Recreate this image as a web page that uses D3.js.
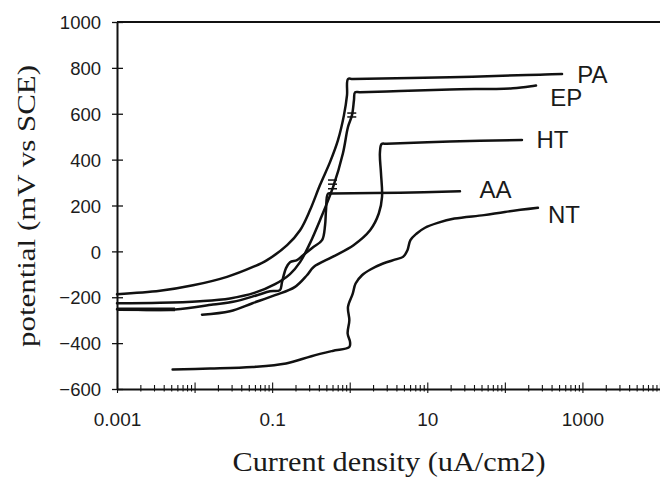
<!DOCTYPE html>
<html><head><meta charset="utf-8">
<script src="https://cdn.jsdelivr.net/npm/d3@7"></script>
<style>html,body{margin:0;padding:0;background:#fff;} svg{display:block;}</style>
</head><body><svg id="c" width="660" height="477"></svg>
<script>
// ---- data (current density uA/cm2, potential mV vs SCE) ----
const seriesNames = ["PA", "EP", "HT", "AA", "NT"];

const paCurrent   = [0.001, 0.00358, 0.00955, 0.0262, 0.0566, 0.0859, 0.156, 0.229, 0.308, 0.414, 0.557, 0.706, 0.843, 0.923, 0.95, 1.1, 19.6, 193, 330, 546];
const paPotential = [-187, -172, -148, -111, -68, -38, 27, 92, 180, 289, 389, 485, 594, 681, 751, 752, 759, 769, 771, 773];

const epCurrent   = [0.001, 0.00358, 0.01175, 0.0286, 0.0601, 0.109, 0.17, 0.229, 0.308, 0.414, 0.61, 0.818, 0.95, 1.07, 1.135, 1.17, 1.35, 4.45, 19.6, 127, 231, 252];
const epPotential = [-226, -224, -217, -205, -180, -143, -99, -47, 36, 136, 280, 428, 542, 594, 660, 693, 694, 699, 706, 711, 721, 723];

const htCurrent   = [0.01247, 0.0286, 0.0558, 0.109, 0.195, 0.281, 0.343, 0.6, 1.12, 1.83, 2.37, 2.61, 2.53, 2.45, 2.58, 3.0, 19.6, 166];
const htPotential = [-276, -261, -226, -191, -156, -104, -68, -24, 27, 92, 165, 238, 341, 428, 468, 469, 479, 486];

const aaCurrent   = [0.001, 0.0056, 0.0173, 0.0313, 0.0638, 0.0938, 0.126, 0.134, 0.151, 0.17, 0.209, 0.25, 0.337, 0.44, 0.481, 0.495, 0.525, 0.6, 4.45, 26.4];
const aaPotential = [-252, -253, -232, -220, -191, -174, -169, -134, -73, -47, -38, -17, 18, 49, 114, 180, 252, 252.5, 256, 262];

const ntCurrent   = [0.00521, 0.0158, 0.0558, 0.151, 0.321, 0.6, 0.989, 1.01, 0.94, 0.989, 0.95, 1.094, 1.19, 1.44, 1.85, 2.69, 3.91, 4.87, 5.55, 6.06, 7.31, 9.35, 13.6, 22.4, 53.8, 100, 267];
const ntPotential = [-515, -511, -504, -489, -457, -434, -417, -395, -358, -300, -242, -184, -140, -104, -79, -53, -35, -24, 5, 49, 78, 103, 124, 143, 158, 172, 190];

// small hash marks on the curves
const hashCurrent   = [0.525, 0.525, 0.525, 0.93, 0.93];
const hashPotential = [311, 293, 273, 603, 586];

// curve label anchors
const labelCurrent   = [860, 385, 255, 47, 360];
const labelPotential = [773, 673, 487, 269, 160];

const yTickValues = [-600, -400, -200, 0, 200, 400, 600, 800, 1000];
const xLabelValues = [0.001, 0.1, 10, 1000];
const xLabelTexts  = ["0.001", "0.1", "10", "1000"];

// ---- drawing ----
const svg = d3.select("#c");
const x = d3.scaleLog().domain([0.001, 10000]).range([117, 660]);
const y = d3.scaleLinear().domain([-600, 1000]).range([389, 22]);

const ink = "#111";
const sans = "'Liberation Sans', Arial, Helvetica, sans-serif";
const serif = "'Liberation Serif', 'Times New Roman', Times, serif";

// top border
svg.append("line").attr("x1", 117).attr("x2", 660).attr("y1", y(1000)).attr("y2", y(1000))
  .attr("stroke", ink).attr("stroke-width", 2.2);

// y axis
const yAxis = svg.append("g").attr("transform", "translate(117,0)")
  .call(d3.axisLeft(y).tickValues(yTickValues).tickSize(5).tickSizeOuter(0).tickPadding(12).tickFormat(d3.format("d")));
yAxis.select(".domain").attr("stroke", ink).attr("stroke-width", 2);
yAxis.selectAll(".tick line").attr("x1", -5).attr("x2", 6).attr("stroke", ink).attr("stroke-width", 1.3);
yAxis.selectAll(".tick text").attr("font-family", sans).attr("font-size", 18.5).attr("fill", "#1c1c1c")
  .attr("x", -16).attr("dy", "0.36em");

// x axis ticks (decades + minor 2..9)
const xTickValues = [];
for (let e = -3; e <= 3; e++) {
  for (let m = 1; m <= 9; m++) xTickValues.push(m * Math.pow(10, e));
}
xTickValues.push(10000);
const isDecade = v => Math.abs(Math.log10(v) - Math.round(Math.log10(v))) < 1e-6;
const labelFor = v => {
  const i = xLabelValues.findIndex(l => Math.abs(l - v) / l < 1e-6);
  return i >= 0 ? xLabelTexts[i] : "";
};
const xAxis = svg.append("g").attr("transform", "translate(0,389)")
  .call(d3.axisBottom(x).tickValues(xTickValues).tickSize(4).tickSizeOuter(0).tickPadding(22).tickFormat(labelFor));
xAxis.select(".domain").attr("stroke", ink).attr("stroke-width", 2);
xAxis.selectAll(".tick line")
  .attr("y1", d => isDecade(d) ? -6.5 : -4)
  .attr("y2", d => isDecade(d) ? 4 : 2.5)
  .attr("stroke", ink).attr("stroke-width", 1.1);
xAxis.selectAll(".tick text").attr("font-family", sans).attr("font-size", 19).attr("fill", "#1c1c1c")
  .attr("y", 37).attr("dy", 0);

// curves
const seriesCurrent = [paCurrent, epCurrent, htCurrent, aaCurrent, ntCurrent];
const seriesPotential = [paPotential, epPotential, htPotential, aaPotential, ntPotential];
const line = d3.line().x(d => x(d[0])).y(d => y(d[1])).curve(d3.curveCatmullRom.alpha(0.5));
seriesNames.forEach((name, i) => {
  const pts = seriesCurrent[i].map((c, j) => [c, seriesPotential[i][j]]);
  svg.append("path").datum(pts).attr("d", line)
    .attr("fill", "none").attr("stroke", ink).attr("stroke-width", 2.5)
    .attr("stroke-linejoin", "round").attr("stroke-linecap", "round");
});
// thicker start of AA near the axis
svg.append("path").datum([[aaCurrent[0], aaPotential[0]], [aaCurrent[1], aaPotential[1]]]).attr("d", line)
  .attr("fill", "none").attr("stroke", ink).attr("stroke-width", 3.6);

// hash marks
hashCurrent.forEach((c, i) => {
  svg.append("line").attr("x1", x(c)).attr("x2", x(c) + 9)
    .attr("y1", y(hashPotential[i])).attr("y2", y(hashPotential[i]))
    .attr("stroke", ink).attr("stroke-width", 1.5);
});

// curve labels
seriesNames.forEach((name, i) => {
  svg.append("text").attr("x", x(labelCurrent[i])).attr("y", y(labelPotential[i]))
    .attr("dy", "0.36em").attr("font-family", sans).attr("font-size", 24).attr("fill", "#1a1a1a")
    .text(name);
});

// axis titles
svg.append("text").attr("x", 389).attr("y", 471).attr("text-anchor", "middle")
  .attr("font-family", serif).attr("font-size", 27).attr("fill", "#1a1a1a")
  .attr("textLength", 313).attr("lengthAdjust", "spacingAndGlyphs")
  .text("Current density (uA/cm2)");
svg.append("text").attr("transform", "translate(35,206) rotate(-90)").attr("text-anchor", "middle")
  .attr("font-family", serif).attr("font-size", 25).attr("fill", "#1a1a1a")
  .attr("textLength", 282).attr("lengthAdjust", "spacingAndGlyphs")
  .text("potential (mV vs SCE)");
</script>
</body></html>
